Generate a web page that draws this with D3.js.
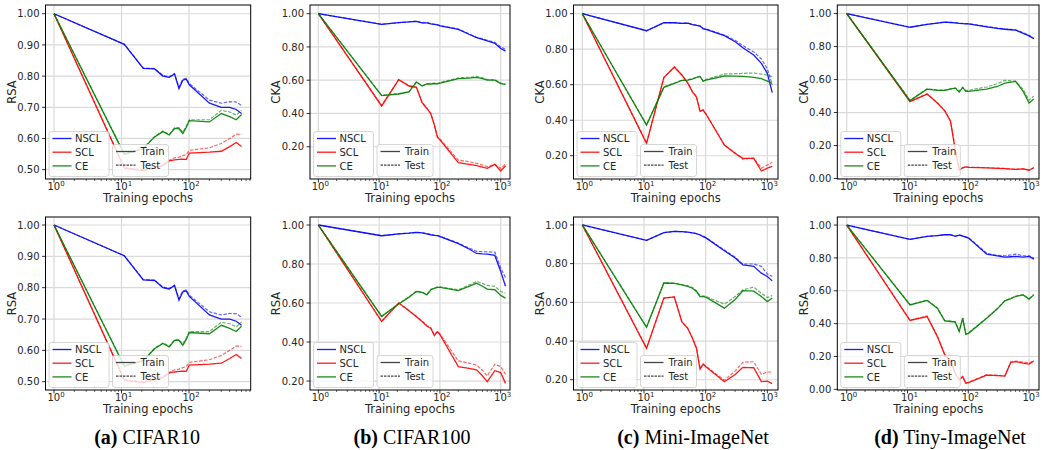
<!DOCTYPE html>
<html>
<head>
<meta charset="utf-8">
<script src="https://cdn.jsdelivr.net/npm/d3@7.9.0/dist/d3.min.js"></script>
<style>
  body { margin: 0; background: #fff; }
  svg { display: block; }
</style>
</head>
<body>
<svg id="chart" width="1042" height="450"></svg>
<script>
// epochs at which the representations were compared
const epochsC10 = [1, 11, 21, 31, 41, 51, 61, 71, 81, 91, 101, 201, 301, 401, 501, 600];
const epochsLong = [1, 11, 21, 31, 41, 51, 61, 71, 81, 91, 101, 201, 301, 401, 501, 601, 801, 1001, 1200];

const methods = ["NSCL", "SCL", "CE"];
const captionTags = ["(a)", "(b)", "(c)", "(d)"];
const captionNames = ["CIFAR10", "CIFAR100", "Mini-ImageNet", "Tiny-ImageNet"];

// CIFAR10 - RSA (same curves in both rows)
const c10NsclTrain = [1.0, 0.902, 0.825, 0.823, 0.800, 0.796, 0.807, 0.760, 0.787, 0.790, 0.772, 0.713, 0.700, 0.700, 0.693, 0.680];
const c10NsclTest  = [1.0, 0.902, 0.826, 0.824, 0.802, 0.798, 0.808, 0.765, 0.790, 0.793, 0.776, 0.723, 0.713, 0.718, 0.717, 0.706];
const c10SclTrain  = [1.0, 0.505, 0.497, 0.505, 0.513, 0.528, 0.531, 0.533, 0.534, 0.533, 0.553, 0.556, 0.559, 0.574, 0.587, 0.574];
const c10SclTest   = [1.0, 0.507, 0.500, 0.508, 0.516, 0.530, 0.538, 0.540, 0.545, 0.548, 0.562, 0.570, 0.584, 0.600, 0.614, 0.613];
const c10CeTrain   = [1.0, 0.549, 0.567, 0.605, 0.622, 0.611, 0.632, 0.632, 0.616, 0.635, 0.657, 0.653, 0.680, 0.670, 0.660, 0.677];
const c10CeTest    = [1.0, 0.551, 0.569, 0.607, 0.624, 0.613, 0.634, 0.635, 0.620, 0.640, 0.660, 0.660, 0.690, 0.685, 0.675, 0.690];

// CIFAR100 - CKA
const c100CkaNsclTrain = [1.0, 0.936, 0.946, 0.950, 0.954, 0.944, 0.945, 0.938, 0.935, 0.932, 0.926, 0.906, 0.876, 0.856, 0.846, 0.836, 0.822, 0.790, 0.775];
const c100CkaNsclTest  = [1.0, 0.936, 0.946, 0.950, 0.955, 0.945, 0.946, 0.940, 0.936, 0.933, 0.928, 0.908, 0.878, 0.858, 0.849, 0.840, 0.828, 0.800, 0.785];
const c100CkaSclTrain  = [1.0, 0.445, 0.603, 0.565, 0.557, 0.465, 0.430, 0.397, 0.330, 0.258, 0.240, 0.104, 0.094, 0.086, 0.078, 0.070, 0.094, 0.054, 0.086];
const c100CkaSclTest   = [1.0, 0.447, 0.603, 0.567, 0.558, 0.467, 0.432, 0.400, 0.333, 0.262, 0.245, 0.120, 0.110, 0.100, 0.090, 0.080, 0.094, 0.070, 0.096];
const c100CkaCeTrain   = [1.0, 0.507, 0.517, 0.530, 0.589, 0.565, 0.577, 0.577, 0.580, 0.578, 0.583, 0.610, 0.613, 0.617, 0.610, 0.600, 0.600, 0.580, 0.575];
const c100CkaCeTest    = [1.0, 0.509, 0.519, 0.532, 0.590, 0.567, 0.579, 0.579, 0.582, 0.580, 0.586, 0.614, 0.618, 0.622, 0.614, 0.604, 0.602, 0.582, 0.577];

// Mini-ImageNet - CKA
const miniCkaNsclTrain = [1.0, 0.904, 0.949, 0.949, 0.945, 0.947, 0.938, 0.934, 0.930, 0.915, 0.912, 0.876, 0.842, 0.808, 0.786, 0.767, 0.720, 0.664, 0.555];
const miniCkaNsclTest  = [1.0, 0.904, 0.949, 0.949, 0.946, 0.948, 0.940, 0.936, 0.932, 0.918, 0.915, 0.880, 0.850, 0.820, 0.800, 0.785, 0.745, 0.690, 0.600];
const miniCkaSclTrain  = [1.0, 0.270, 0.640, 0.700, 0.655, 0.610, 0.560, 0.530, 0.450, 0.457, 0.435, 0.260, 0.213, 0.185, 0.185, 0.185, 0.114, 0.130, 0.140];
const miniCkaSclTest   = [1.0, 0.272, 0.640, 0.700, 0.656, 0.612, 0.562, 0.532, 0.452, 0.459, 0.437, 0.262, 0.215, 0.180, 0.185, 0.187, 0.130, 0.148, 0.163];
const miniCkaCeTrain   = [1.0, 0.373, 0.585, 0.607, 0.624, 0.626, 0.632, 0.641, 0.645, 0.620, 0.626, 0.649, 0.648, 0.647, 0.644, 0.641, 0.634, 0.620, 0.607];
const miniCkaCeTest    = [1.0, 0.375, 0.587, 0.609, 0.626, 0.628, 0.634, 0.643, 0.647, 0.622, 0.630, 0.660, 0.662, 0.664, 0.665, 0.666, 0.660, 0.654, 0.645];

// Tiny-ImageNet - CKA
const tinyCkaNsclTrain = [1.0, 0.917, 0.935, 0.942, 0.948, 0.946, 0.944, 0.940, 0.939, 0.938, 0.938, 0.920, 0.910, 0.905, 0.902, 0.900, 0.880, 0.865, 0.847];
const tinyCkaNsclTest  = [1.0, 0.917, 0.935, 0.943, 0.948, 0.947, 0.945, 0.941, 0.940, 0.939, 0.939, 0.922, 0.912, 0.907, 0.904, 0.902, 0.884, 0.868, 0.850];
const tinyCkaSclTrain  = [1.0, 0.466, 0.512, 0.458, 0.410, 0.347, 0.175, 0.050, 0.065, 0.070, 0.068, 0.065, 0.062, 0.060, 0.057, 0.055, 0.058, 0.050, 0.065];
const tinyCkaSclTest   = [1.0, 0.468, 0.513, 0.460, 0.412, 0.350, 0.180, 0.055, 0.066, 0.071, 0.069, 0.066, 0.063, 0.061, 0.058, 0.056, 0.059, 0.052, 0.066];
const tinyCkaCeTrain   = [1.0, 0.472, 0.542, 0.534, 0.534, 0.542, 0.548, 0.524, 0.552, 0.528, 0.528, 0.542, 0.558, 0.578, 0.585, 0.589, 0.528, 0.458, 0.482];
const tinyCkaCeTest    = [1.0, 0.474, 0.544, 0.537, 0.536, 0.545, 0.550, 0.530, 0.553, 0.533, 0.535, 0.555, 0.575, 0.595, 0.592, 0.590, 0.540, 0.475, 0.500];

// CIFAR100 - RSA
const c100RsaNsclTrain = [1.0, 0.945, 0.954, 0.958, 0.962, 0.960, 0.955, 0.950, 0.947, 0.945, 0.940, 0.904, 0.877, 0.854, 0.852, 0.851, 0.844, 0.762, 0.686];
const c100RsaNsclTest  = [1.0, 0.945, 0.954, 0.958, 0.962, 0.960, 0.956, 0.951, 0.948, 0.946, 0.942, 0.907, 0.882, 0.865, 0.863, 0.862, 0.861, 0.780, 0.730];
const c100RsaSclTrain  = [1.0, 0.505, 0.600, 0.560, 0.530, 0.505, 0.482, 0.470, 0.433, 0.453, 0.436, 0.274, 0.265, 0.257, 0.227, 0.197, 0.253, 0.243, 0.188];
const c100RsaSclTest   = [1.0, 0.507, 0.601, 0.562, 0.532, 0.507, 0.485, 0.473, 0.437, 0.456, 0.440, 0.303, 0.292, 0.282, 0.255, 0.227, 0.286, 0.274, 0.234];
const c100RsaCeTrain   = [1.0, 0.531, 0.595, 0.630, 0.659, 0.654, 0.642, 0.668, 0.675, 0.680, 0.680, 0.664, 0.685, 0.702, 0.686, 0.671, 0.668, 0.639, 0.625];
const c100RsaCeTest    = [1.0, 0.533, 0.597, 0.632, 0.661, 0.656, 0.645, 0.670, 0.678, 0.683, 0.683, 0.668, 0.692, 0.710, 0.700, 0.690, 0.685, 0.660, 0.650];

// Mini-ImageNet - RSA
const miniRsaNsclTrain = [1.0, 0.920, 0.960, 0.967, 0.965, 0.963, 0.959, 0.955, 0.948, 0.940, 0.933, 0.867, 0.829, 0.793, 0.790, 0.786, 0.751, 0.734, 0.711];
const miniRsaNsclTest  = [1.0, 0.920, 0.960, 0.967, 0.965, 0.963, 0.959, 0.955, 0.949, 0.942, 0.935, 0.870, 0.833, 0.798, 0.798, 0.798, 0.786, 0.746, 0.734];
const miniRsaSclTrain  = [1.0, 0.362, 0.622, 0.628, 0.500, 0.466, 0.414, 0.362, 0.254, 0.280, 0.267, 0.190, 0.227, 0.264, 0.263, 0.262, 0.190, 0.193, 0.180];
const miniRsaSclTest   = [1.0, 0.364, 0.622, 0.628, 0.502, 0.468, 0.417, 0.366, 0.258, 0.283, 0.270, 0.198, 0.245, 0.290, 0.292, 0.293, 0.228, 0.240, 0.240];
const miniRsaCeTrain   = [1.0, 0.471, 0.700, 0.698, 0.690, 0.683, 0.673, 0.656, 0.630, 0.630, 0.627, 0.570, 0.615, 0.660, 0.659, 0.658, 0.630, 0.604, 0.622];
const miniRsaCeTest    = [1.0, 0.473, 0.702, 0.700, 0.692, 0.686, 0.676, 0.660, 0.635, 0.633, 0.630, 0.590, 0.630, 0.665, 0.672, 0.679, 0.647, 0.625, 0.635];

// Tiny-ImageNet - RSA
const tinyRsaNsclTrain = [1.0, 0.913, 0.931, 0.936, 0.941, 0.941, 0.931, 0.939, 0.933, 0.927, 0.921, 0.823, 0.813, 0.805, 0.807, 0.809, 0.805, 0.809, 0.793];
const tinyRsaNsclTest  = [1.0, 0.913, 0.931, 0.936, 0.941, 0.941, 0.932, 0.940, 0.934, 0.928, 0.923, 0.829, 0.815, 0.813, 0.818, 0.823, 0.813, 0.813, 0.800];
const tinyRsaSclTrain  = [1.0, 0.419, 0.443, 0.321, 0.210, 0.170, 0.098, 0.057, 0.077, 0.037, 0.041, 0.087, 0.084, 0.081, 0.165, 0.169, 0.159, 0.154, 0.173];
const tinyRsaSclTest   = [1.0, 0.421, 0.447, 0.325, 0.213, 0.173, 0.100, 0.060, 0.079, 0.040, 0.043, 0.089, 0.086, 0.083, 0.168, 0.172, 0.165, 0.160, 0.175];
const tinyRsaCeTrain   = [1.0, 0.514, 0.541, 0.494, 0.417, 0.413, 0.409, 0.352, 0.433, 0.335, 0.341, 0.433, 0.490, 0.539, 0.552, 0.565, 0.575, 0.549, 0.575];
const tinyRsaCeTest    = [1.0, 0.516, 0.543, 0.496, 0.420, 0.416, 0.412, 0.356, 0.435, 0.338, 0.344, 0.435, 0.492, 0.541, 0.554, 0.567, 0.577, 0.551, 0.577];

// layout: plot area per column / row, log10 limits per column
const colBox = [[45.5, 250.7], [310, 510], [573.5, 778], [837.3, 1039]];
const colLogLim = [[-0.126, 2.914], [-0.137, 3.153], [-0.143, 3.173], [-0.155, 3.164]];
const rowBox = [[5, 179], [217, 390]];
const colors = { NSCL: "#0000ff", SCL: "#ff0000", CE: "#008000" };

const panels = [
  { row: 0, col: 0, ylabel: "RSA", epochs: epochsC10, yDom: [0.47, 1.028], yTicks: [0.5, 1.0, 0.1],
    data: { NSCL: [c10NsclTrain, c10NsclTest], SCL: [c10SclTrain, c10SclTest], CE: [c10CeTrain, c10CeTest] } },
  { row: 0, col: 1, ylabel: "CKA", epochs: epochsLong, yDom: [0.006, 1.052], yTicks: [0.2, 1.0, 0.2],
    data: { NSCL: [c100CkaNsclTrain, c100CkaNsclTest], SCL: [c100CkaSclTrain, c100CkaSclTest], CE: [c100CkaCeTrain, c100CkaCeTest] } },
  { row: 0, col: 2, ylabel: "CKA", epochs: epochsLong, yDom: [0.069, 1.049], yTicks: [0.2, 1.0, 0.2],
    data: { NSCL: [miniCkaNsclTrain, miniCkaNsclTest], SCL: [miniCkaSclTrain, miniCkaSclTest], CE: [miniCkaCeTrain, miniCkaCeTest] } },
  { row: 0, col: 3, ylabel: "CKA", epochs: epochsLong, yDom: [-0.003, 1.052], yTicks: [0.0, 1.0, 0.2],
    data: { NSCL: [tinyCkaNsclTrain, tinyCkaNsclTest], SCL: [tinyCkaSclTrain, tinyCkaSclTest], CE: [tinyCkaCeTrain, tinyCkaCeTest] } },
  { row: 1, col: 0, ylabel: "RSA", epochs: epochsC10, yDom: [0.4735, 1.0256], yTicks: [0.5, 1.0, 0.1],
    data: { NSCL: [c10NsclTrain, c10NsclTest], SCL: [c10SclTrain, c10SclTest], CE: [c10CeTrain, c10CeTest] } },
  { row: 1, col: 1, ylabel: "RSA", epochs: epochsLong, yDom: [0.154, 1.041], yTicks: [0.2, 1.0, 0.2],
    data: { NSCL: [c100RsaNsclTrain, c100RsaNsclTest], SCL: [c100RsaSclTrain, c100RsaSclTest], CE: [c100RsaCeTrain, c100RsaCeTest] } },
  { row: 1, col: 2, ylabel: "RSA", epochs: epochsLong, yDom: [0.147, 1.041], yTicks: [0.2, 1.0, 0.2],
    data: { NSCL: [miniRsaNsclTrain, miniRsaNsclTest], SCL: [miniRsaSclTrain, miniRsaSclTest], CE: [miniRsaCeTrain, miniRsaCeTest] } },
  { row: 1, col: 3, ylabel: "RSA", epochs: epochsLong, yDom: [-0.004, 1.049], yTicks: [0.0, 1.0, 0.2],
    data: { NSCL: [tinyRsaNsclTrain, tinyRsaNsclTest], SCL: [tinyRsaSclTrain, tinyRsaSclTest], CE: [tinyRsaCeTrain, tinyRsaCeTest] } },
];

const svg = d3.select("#chart");
const font = "DejaVu Sans, sans-serif";
const textCol = "#262626";

panels.forEach((p, pi) => {
  const [x0, x1] = colBox[p.col];
  const [y0, y1] = rowBox[p.row];
  const x = d3.scaleLog().domain(colLogLim[p.col].map(v => Math.pow(10, v))).range([x0, x1]);
  const y = d3.scaleLinear().domain(p.yDom).range([y1, y0]);
  const g = svg.append("g");

  g.append("clipPath").attr("id", "clip" + pi)
    .append("rect").attr("x", x0).attr("y", y0).attr("width", x1 - x0).attr("height", y1 - y0);

  // major ticks
  const xMajor = [1, 10, 100, 1000].filter(v => x(v) >= x0 - 0.5 && x(v) <= x1 + 0.5);
  const xMinor = [];
  [1, 10, 100, 1000].forEach(d => { for (let k = 2; k <= 9; k++) { const v = d * k; if (x(v) > x0 && x(v) < x1) xMinor.push(v); } });
  const yT = d3.range(p.yTicks[0], p.yTicks[1] + 1e-9, p.yTicks[2]);

  // grid
  g.selectAll(".gx").data(xMajor).join("line")
    .attr("x1", d => x(d)).attr("x2", d => x(d)).attr("y1", y0).attr("y2", y1)
    .attr("stroke", "#d9d9d9").attr("stroke-width", 1.2);
  g.selectAll(".gy").data(yT).join("line")
    .attr("x1", x0).attr("x2", x1).attr("y1", d => y(d)).attr("y2", d => y(d))
    .attr("stroke", "#d9d9d9").attr("stroke-width", 1.2);

  // curves
  const lines = g.append("g").attr("clip-path", `url(#clip${pi})`);
  methods.forEach(m => {
    const [train, test] = p.data[m];
    const line = d3.line().x((d, i) => x(p.epochs[i])).y(d => y(d));
    lines.append("path").attr("d", line(train)).attr("fill", "none")
      .attr("stroke", colors[m]).attr("stroke-width", 1.3).attr("stroke-opacity", 0.9);
    lines.append("path").attr("d", line(test)).attr("fill", "none")
      .attr("stroke", colors[m]).attr("stroke-width", 1.2).attr("stroke-opacity", 0.6)
      .attr("stroke-dasharray", "3.5,1.5");
  });

  // spines
  g.append("rect").attr("x", x0).attr("y", y0).attr("width", x1 - x0).attr("height", y1 - y0)
    .attr("fill", "none").attr("stroke", "#000").attr("stroke-width", 1);

  // tick marks
  g.selectAll(".tx").data(xMajor).join("line")
    .attr("x1", d => x(d)).attr("x2", d => x(d)).attr("y1", y1).attr("y2", y1 + 3.5)
    .attr("stroke", "#000").attr("stroke-width", 0.8);
  g.selectAll(".tmx").data(xMinor).join("line")
    .attr("x1", d => x(d)).attr("x2", d => x(d)).attr("y1", y1).attr("y2", y1 + 2)
    .attr("stroke", "#000").attr("stroke-width", 0.6);
  g.selectAll(".ty").data(yT).join("line")
    .attr("x1", x0 - 3.5).attr("x2", x0).attr("y1", d => y(d)).attr("y2", d => y(d))
    .attr("stroke", "#000").attr("stroke-width", 0.8);

  // tick labels
  g.selectAll(".lty").data(yT).join("text")
    .attr("x", x0 - 6).attr("y", d => y(d) + 3.6).attr("text-anchor", "end")
    .attr("font-family", font).attr("font-size", 10).attr("fill", textCol)
    .text(d => d3.format(".2f")(d));
  const xl = g.selectAll(".ltx").data(xMajor).join("text")
    .attr("x", d => x(d) + 2).attr("y", y1 + 11).attr("text-anchor", "middle")
    .attr("font-family", font).attr("font-size", 10).attr("fill", textCol);
  xl.append("tspan").text("10");
  xl.append("tspan").attr("dy", -4.5).attr("font-size", 7).text(d => Math.round(Math.log10(d)));

  // axis labels
  g.append("text").attr("x", (x0 + x1) / 2).attr("y", y1 + 23).attr("text-anchor", "middle")
    .attr("font-family", font).attr("font-size", 11.5).attr("fill", textCol).text("Training epochs");
  const ylx = [12, 276, 539.5, 803.5][p.col];
  g.append("text").attr("transform", `translate(${ylx},${(y0 + y1) / 2}) rotate(-90)`)
    .attr("text-anchor", "middle").attr("dy", "0.35em")
    .attr("font-family", font).attr("font-size", 11.5).attr("fill", textCol).text(p.ylabel);

  // legends
  const lg = g.append("g");
  const b1x = x0 + 3.5, b1y = y1 - 47.5;
  lg.append("rect").attr("x", b1x).attr("y", b1y).attr("width", 60).attr("height", 45)
    .attr("rx", 2.5).attr("fill", "#fff").attr("fill-opacity", 0.8).attr("stroke", "#cccccc").attr("stroke-width", 0.8);
  methods.forEach((m, i) => {
    const ly = b1y + 7 + i * 13.7;
    lg.append("line").attr("x1", b1x + 3.5).attr("x2", b1x + 22.5).attr("y1", ly).attr("y2", ly)
      .attr("stroke", colors[m]).attr("stroke-width", 1.3).attr("stroke-opacity", 0.9);
    lg.append("text").attr("x", b1x + 26).attr("y", ly + 3.6)
      .attr("font-family", font).attr("font-size", 10).attr("fill", textCol).text(m);
  });
  const b2x = x0 + 67, b2y = y1 - 34.5;
  lg.append("rect").attr("x", b2x).attr("y", b2y).attr("width", 56).attr("height", 32)
    .attr("rx", 2.5).attr("fill", "#fff").attr("fill-opacity", 0.8).attr("stroke", "#cccccc").attr("stroke-width", 0.8);
  ["Train", "Test"].forEach((s, i) => {
    const ly = b2y + 7 + i * 13.7;
    lg.append("line").attr("x1", b2x + 3.5).attr("x2", b2x + 23).attr("y1", ly).attr("y2", ly)
      .attr("stroke", "#444").attr("stroke-width", 1.3)
      .attr("stroke-dasharray", i === 1 ? "2.5,1" : null);
    lg.append("text").attr("x", b2x + 28).attr("y", ly + 3.6)
      .attr("font-family", font).attr("font-size", 10).attr("fill", textCol).text(s);
  });
});

// sub-captions
const capX = [147, 412, 693, 950];
captionNames.forEach((name, i) => {
  const t = svg.append("text").attr("x", capX[i]).attr("y", 444).attr("text-anchor", "middle")
    .attr("font-family", "Liberation Serif, Times New Roman, serif").attr("font-size", 20).attr("fill", "#000");
  t.append("tspan").attr("font-weight", "bold").text(captionTags[i]);
  t.append("tspan").text(" " + name);
});
</script>
</body>
</html>
